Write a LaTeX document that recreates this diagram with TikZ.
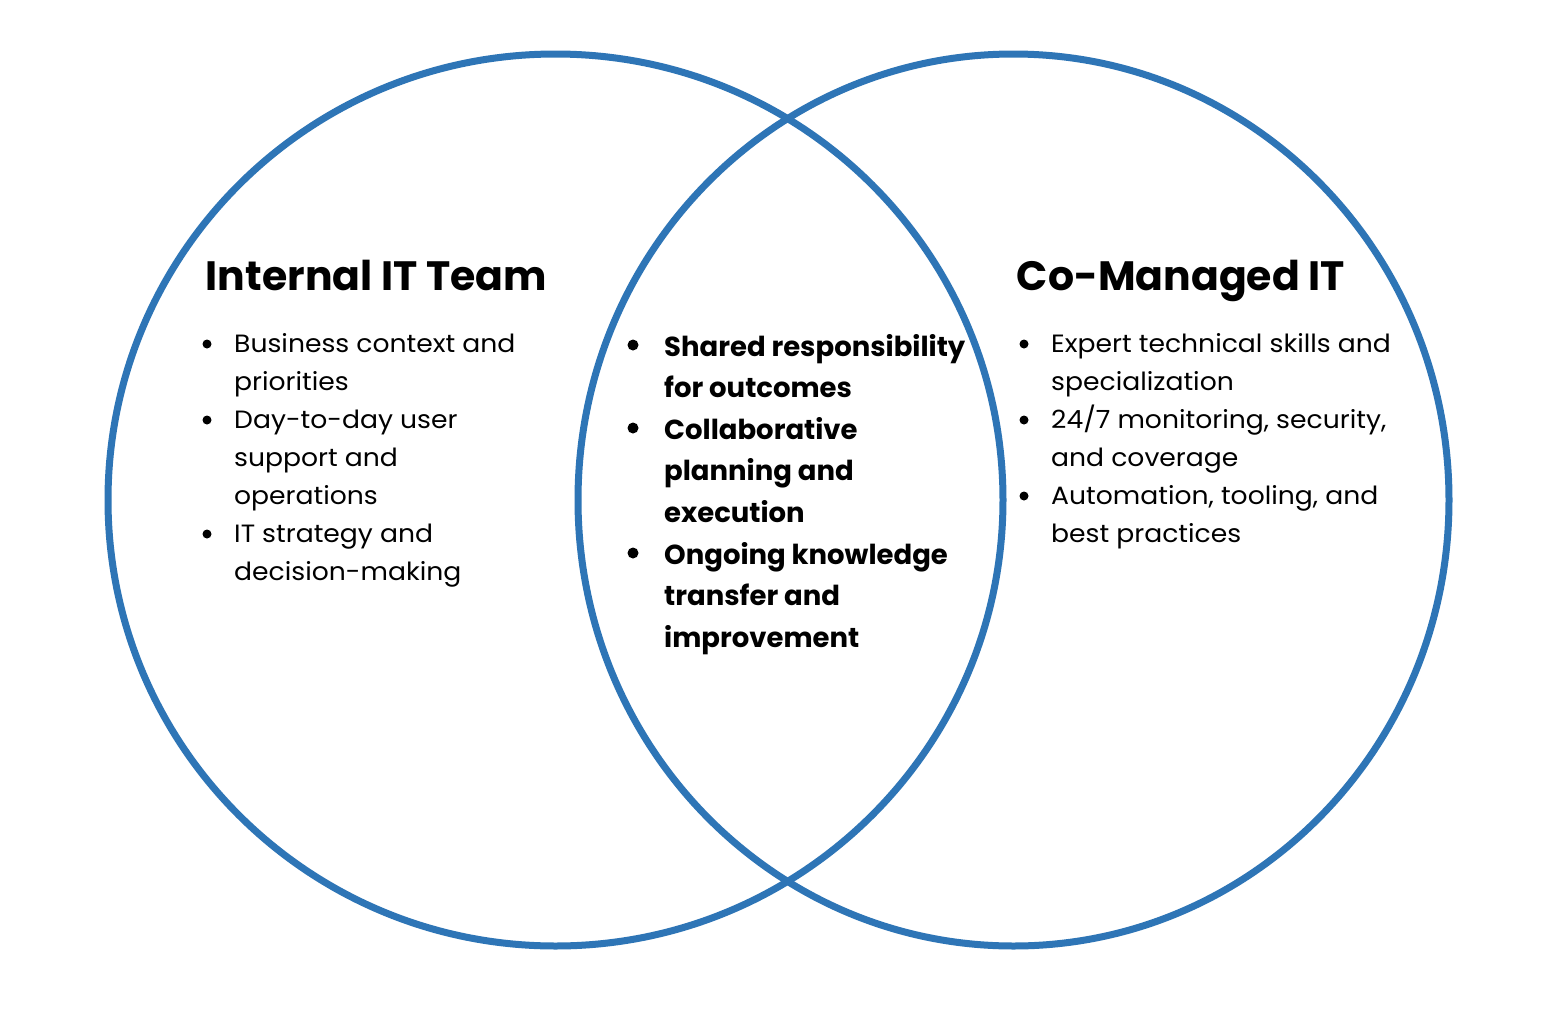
\documentclass[tikz,border=0pt]{standalone}
\usepackage{fontspec}
\setmainfont{Poppins}
\newfontfamily\bodyfont{Poppins}[FakeStretch=1.065]
\definecolor{vennblue}{HTML}{2E75B6}
\newcommand{\vl}[1]{\parbox[t]{440pt}{\raggedright #1}}
\begin{document}
\begin{tikzpicture}[x=1pt,y=-1pt,
  ring/.style={draw=vennblue,line width=7pt},
  title/.style={anchor=base,inner sep=0,font=\fontsize{41}{48}\selectfont\bfseries},
  item/.style={anchor=base west,inner sep=0,font=\bodyfont\fontsize{25}{38}\selectfont},
  citem/.style={anchor=base west,inner sep=0,font=\fontsize{27.5}{41.6}\selectfont\bfseries},
  dot/.style={circle,fill=black,inner sep=0,minimum size=9pt},
  cdot/.style={circle,fill=black,inner sep=0,minimum size=11pt}]
\useasboundingbox[fill=white] (0,0) rectangle (1543,1010);
\draw[ring] (555.5,500) ellipse [x radius=447.5, y radius=446];
\draw[ring] (1013.5,500) ellipse [x radius=435.5, y radius=446];
% titles
\node[title] (tl) at (376.5,290) {Internal IT Team};
\node[title] (tr) at (1181,290) {Co-Managed IT};
% left
\node[item] (l1) at (234,352) {\vl{Business context and\\priorities}};
\node[item] (l2) at (234,428) {\vl{Day-to-day user\\support and\\operations}};
\node[item] (l3) at (234,542) {\vl{IT strategy and\\decision-making}};
\node[dot] (lb1) at (207,344) {};
\node[dot] (lb2) at (207,420) {};
\node[dot] (lb3) at (207,534) {};
% right
\node[item] (r1) at (1051,352) {\vl{Expert technical skills and\\specialization}};
\node[item] (r2) at (1051,428) {\vl{24/7 monitoring, security,\\and coverage}};
\node[item] (r3) at (1051,504) {\vl{Automation, tooling, and\\best practices}};
\node[dot] (rb1) at (1024,344) {};
\node[dot] (rb2) at (1024,420) {};
\node[dot] (rb3) at (1024,496) {};
% center
\node[citem] (c1) at (664,356) {\vl{Shared responsibility\\for outcomes}};
\node[citem] (c2) at (664,439.2) {\vl{Collaborative\\planning and\\execution}};
\node[citem] (c3) at (664,564) {\vl{Ongoing knowledge\\transfer and\\improvement}};
\node[cdot] (cb1) at (633,345) {};
\node[cdot] (cb2) at (633,428) {};
\node[cdot] (cb3) at (633,553) {};
\end{tikzpicture}
\end{document}
